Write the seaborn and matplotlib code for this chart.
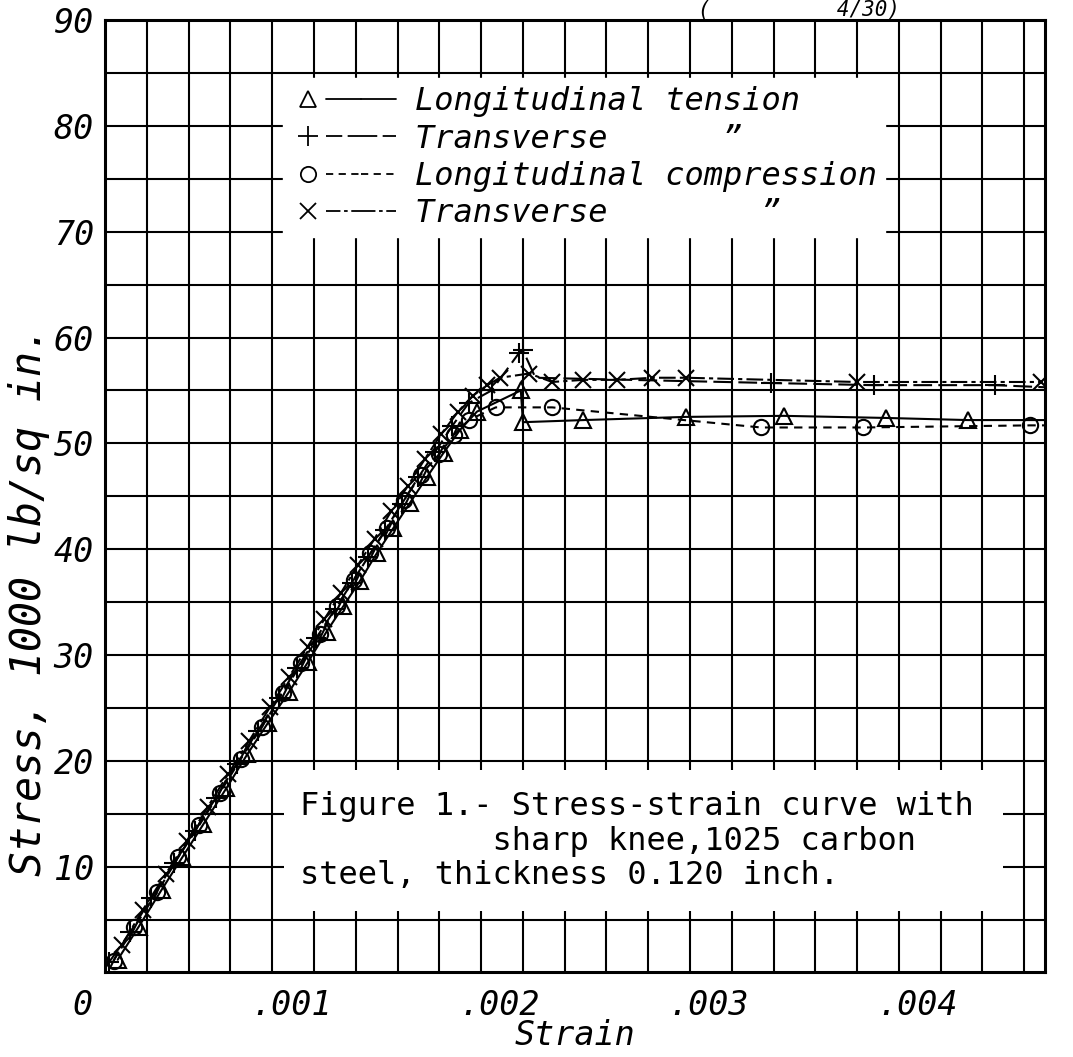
import numpy as np
import matplotlib
matplotlib.use("Agg")
import matplotlib.pyplot as plt
from matplotlib.lines import Line2D
from matplotlib.patches import Rectangle
from matplotlib.legend_handler import HandlerTuple
from matplotlib.transforms import ScaledTranslation
import seaborn as sns

# Longitudinal tension (triangles, solid)
tri_strain = [0.00006, 0.00016, 0.00027, 0.00037, 0.00047, 0.00058, 0.00068, 0.00078, 0.00088,
              0.00097, 0.00106, 0.00114, 0.00122, 0.00130, 0.00138, 0.00146, 0.00154, 0.00162,
              0.00170, 0.00178, 0.00199, 0.00200, 0.00229, 0.00278, 0.00325, 0.00374, 0.00413, 0.00450]
tri_stress = [1.2, 4.3, 7.8, 10.9, 14.0, 17.4, 20.6, 23.6, 26.5,
              29.3, 32.2, 34.6, 37.0, 39.6, 42.0, 44.4, 46.8, 49.1,
              51.3, 53.0, 55.0, 52.0, 52.2, 52.5, 52.6, 52.4, 52.2, 52.2]

# Transverse tension (plus, long dash)
plus_strain = [0.00002, 0.00012, 0.00022, 0.00033, 0.00043, 0.00053, 0.00063, 0.00073, 0.00083,
               0.00092, 0.00101, 0.00110, 0.00118, 0.00126, 0.00134, 0.00142, 0.00150, 0.00158,
               0.00166, 0.00174, 0.00185, 0.00198, 0.00200, 0.00206, 0.00319, 0.00368, 0.00426, 0.00450]
plus_stress = [1.0, 3.8, 7.0, 10.3, 13.4, 16.5, 19.7, 22.8, 25.9,
               28.8, 31.6, 34.3, 36.8, 39.3, 41.8, 44.3, 46.8, 49.2,
               51.6, 53.8, 55.0, 58.5, 58.8, 56.2, 55.7, 55.5, 55.5, 55.3]

# Longitudinal compression (circles, short dash)
circ_strain = [0.00004, 0.00014, 0.00025, 0.00035, 0.00045, 0.00055, 0.00065, 0.00075, 0.00085,
               0.00094, 0.00103, 0.00111, 0.00119, 0.00127, 0.00135, 0.00143, 0.00151, 0.00160,
               0.00167, 0.00174, 0.00187, 0.00214, 0.00314, 0.00363, 0.00443, 0.00450]
circ_stress = [1.1, 4.3, 7.6, 10.9, 13.9, 17.0, 20.2, 23.2, 26.4,
               29.2, 32.0, 34.6, 37.1, 39.6, 42.0, 44.6, 47.0, 49.0,
               50.8, 52.2, 53.4, 53.4, 51.5, 51.5, 51.7, 51.7]

# Transverse compression (x, dash-dot)
x_strain = [0.00008, 0.00018, 0.00029, 0.00039, 0.00049, 0.00059, 0.00069, 0.00079, 0.00088,
            0.00097, 0.00105, 0.00113, 0.00121, 0.00129, 0.00137, 0.00145, 0.00153, 0.00161,
            0.00169, 0.00176, 0.00183, 0.00189, 0.00203, 0.00214, 0.00229, 0.00245, 0.00262,
            0.00278, 0.00360, 0.00448]
x_stress = [2.6, 5.9, 9.3, 12.4, 15.6, 18.8, 21.9, 25.1, 27.9,
            30.8, 33.4, 35.9, 38.5, 41.0, 43.6, 46.0, 48.5, 50.9,
            53.0, 54.5, 55.5, 56.2, 56.6, 55.8, 56.0, 56.0, 56.2,
            56.2, 55.8, 55.8]

legend_labels = ["Longitudinal tension", "Transverse      \u201d",
                 "Longitudinal compression", "Transverse        \u201d"]
x_ticks = [0, 0.001, 0.002, 0.003, 0.004]
x_tick_labels = ["0", ".001", ".002", ".003", ".004"]
y_ticks = [10, 20, 30, 40, 50, 60, 70, 80, 90]
caption = ("Figure 1.- Stress-strain curve with\n"
           "          sharp knee,1025 carbon\n"
           "steel, thickness 0.120 inch.")

sns.set_style("white")
plt.rcParams["font.family"] = ["DejaVu Sans Mono", "DejaVu Sans"]
plt.rcParams["text.color"] = "black"
plt.rcParams["axes.labelcolor"] = "black"
plt.rcParams["xtick.color"] = "black"
plt.rcParams["ytick.color"] = "black"

fig = plt.figure(figsize=(10.73, 10.57), dpi=100)
ax = fig.add_axes([0.098, 0.080, 0.876, 0.901])

series = [
    (tri_strain, tri_stress, "^", "-", 11, list(range(len(tri_strain) - 1))),
    (plus_strain, plus_stress, "+", (0, (9, 3)), 14, [i for i in range(len(plus_strain) - 1) if i != 23]),
    (circ_strain, circ_stress, "o", (0, (4, 3)), 11, list(range(len(circ_strain) - 1))),
    (x_strain, x_stress, "x", (0, (8, 2, 2, 2)), 11, list(range(len(x_strain)))),
]
for xs, ys, mk, ls, ms, mev in series:
    sns.lineplot(x=xs, y=ys, ax=ax, sort=False, estimator=None, color="black",
                 linestyle=ls, linewidth=1.5, marker=mk, markersize=ms,
                 mfc="none", mec="black", mew=1.5, markevery=mev, zorder=3)

ax.set_xlim(0, 0.0045)
ax.set_ylim(0, 90)
ax.set_xticks(x_ticks)
ax.set_xticklabels(x_tick_labels)
ax.set_xticks(np.arange(0, 0.00451, 0.0002), minor=True)
ax.set_yticks(y_ticks)
ax.set_yticks(np.arange(5, 90, 10), minor=True)
ax.grid(True, which="both", color="black", linewidth=1.5)
ax.set_axisbelow(True)
ax.tick_params(which="both", length=0)
ax.tick_params(axis="y", pad=8)
ax.tick_params(axis="x", pad=12)
for lab in ax.get_xticklabels() + ax.get_yticklabels():
    lab.set_fontsize(24)
    lab.set_style("italic")
for lab in ax.get_xticklabels():
    lab.set_transform(lab.get_transform() + ScaledTranslation(-0.23, 0, fig.dpi_scale_trans))
for s in ax.spines.values():
    s.set_color("black")
    s.set_linewidth(2.2)

ax.set_xlabel("Strain", fontsize=24, style="italic", labelpad=-2)
ax.set_ylabel("Stress, 1000 lb/sq in.", fontsize=30, style="italic")
ax.yaxis.set_label_coords(-0.059, 0.39)

# legend: marker first, then a line sample
handles = []
for xs, ys, mk, ls, ms, mev in series:
    m = Line2D([], [], marker=mk, linestyle="none", color="black", markersize=ms,
               mfc="none", mew=1.3)
    l1 = Line2D([], [], linestyle=ls, color="black", linewidth=1.3)
    l2 = Line2D([], [], linestyle=ls, color="black", linewidth=1.3)
    handles.append((m, l1, l2))
leg = ax.legend(handles, legend_labels, handler_map={tuple: HandlerTuple(ndivide=None, pad=0)},
                loc="upper left", bbox_to_anchor=(0.189, 0.939), borderaxespad=0,
                frameon=True, fancybox=False, framealpha=1, edgecolor="white",
                handlelength=3.3, handletextpad=0.6, labelspacing=0.2, borderpad=0.25,
                prop={"style": "italic", "size": 23})
leg.set_zorder(5)

# caption box
ax.add_patch(Rectangle((0.190, 0.065), 0.765, 0.148, transform=ax.transAxes,
                       facecolor="white", edgecolor="none", zorder=1))
ax.text(0.207, 0.190, caption, transform=ax.transAxes, fontsize=23, va="top", ha="left",
        linespacing=1.14, zorder=6)

fig.text(0.745, 1.0, "(          4/30)", fontsize=15, style="italic", ha="center", va="top")

fig.savefig("out.png", dpi=100)
